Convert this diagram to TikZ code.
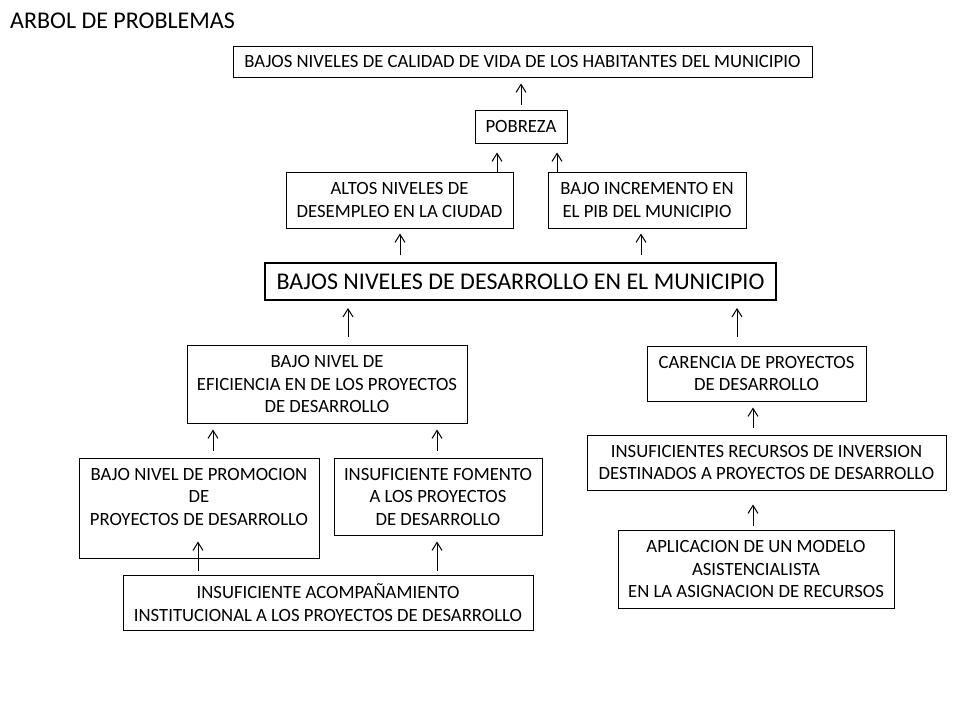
\documentclass[tikz,border=0pt]{standalone}
\usepackage{fontspec}
\setmainfont{Carlito}
\usetikzlibrary{arrows.meta}

\tikzset{
	problema/.style={draw, line width=1pt, inner sep=0pt, align=center,
		font=\fontsize{18.7}{22.5}\selectfont},
	flecha/.style={-{Straight Barb[length=8pt,width=10pt]}, line width=1pt},
}

\begin{document}
\begin{tikzpicture}[x=1pt,y=-1pt]
		\useasboundingbox (0,0) rectangle (960,720);

		\node[anchor=base west, inner sep=0pt, font=\fontsize{24}{28}\selectfont] (titulo) at (10,28) {ARBOL DE PROBLEMAS};

		% efectos
		\node[problema, minimum width=579pt, minimum height=31pt] (calidad) at (522.5,61.5) {BAJOS NIVELES DE CALIDAD DE VIDA DE LOS HABITANTES DEL MUNICIPIO};
		\node[problema, minimum width=92pt, minimum height=33pt] (pobreza) at (521,126.5) {POBREZA};
		\node[problema, minimum width=227pt, minimum height=56pt] (desempleo) at (399.5,200) {ALTOS NIVELES DE\\DESEMPLEO EN LA CIUDAD};
		\node[problema, minimum width=198pt, minimum height=56pt] (pib) at (647,200) {BAJO INCREMENTO EN\\EL PIB DEL MUNICIPIO};

		% problema central
		\node[problema, line width=2pt, minimum width=511pt, minimum height=37pt,
			font=\fontsize{24}{28}\selectfont] (central) at (520.5,281.5) {BAJOS NIVELES DE DESARROLLO EN EL MUNICIPIO};

		% causas
		\node[problema, minimum width=280pt, minimum height=78pt] (eficiencia) at (327,384) {BAJO NIVEL DE\\EFICIENCIA EN DE LOS PROYECTOS\\DE DESARROLLO};
		\node[problema, minimum width=219pt, minimum height=55pt] (carencia) at (756.5,373.5) {CARENCIA DE PROYECTOS\\DE DESARROLLO};
		\node[problema, minimum width=359pt, minimum height=55pt] (recursos) at (766.5,462.5) {INSUFICIENTES RECURSOS DE INVERSION\\DESTINADOS A PROYECTOS DE DESARROLLO};
		\node[problema, minimum width=276pt, minimum height=78pt] (modelo) at (756,569) {APLICACION DE UN MODELO\\ASISTENCIALISTA\\EN LA ASIGNACION DE RECURSOS};
		\node[problema, minimum width=240pt, minimum height=100pt] (promocion) at (199,508) {BAJO NIVEL DE PROMOCION\\DE\\PROYECTOS DE DESARROLLO\\ \mbox{}};
		\node[problema, minimum width=208pt, minimum height=77pt] (fomento) at (438,496.5) {INSUFICIENTE FOMENTO\\A LOS PROYECTOS\\DE DESARROLLO};
		\node[problema, minimum width=410pt, minimum height=55pt] (acompana) at (328,602.5) {INSUFICIENTE ACOMPAÑAMIENTO\\INSTITUCIONAL A LOS PROYECTOS DE DESARROLLO};

		% flechas
		\draw[flecha, shorten <=5pt, shorten >=6pt] (521,0 |- pobreza.north) -- (521,0 |- calidad.south);
		\draw[flecha, shorten >=9pt] (497,0 |- desempleo.north) -- (497,0 |- pobreza.south);
		\draw[flecha, shorten >=9pt] (557,0 |- pib.north) -- (557,0 |- pobreza.south);
		\draw[flecha, shorten <=7pt, shorten >=5pt] (400,0 |- central.north) -- (400,0 |- desempleo.south);
		\draw[flecha, shorten <=7pt, shorten >=5pt] (641,0 |- central.north) -- (641,0 |- pib.south);
		\draw[flecha, shorten <=8pt, shorten >=7pt] (348,0 |- eficiencia.north) -- (348,0 |- central.south);
		\draw[flecha, shorten <=9pt, shorten >=7pt] (737,0 |- carencia.north) -- (737,0 |- central.south);
		\draw[flecha, shorten <=7pt, shorten >=6pt] (753,0 |- recursos.north) -- (753,0 |- carencia.south);
		\draw[flecha, shorten <=4pt, shorten >=14pt] (753,0 |- modelo.north) -- (753,0 |- recursos.south);
		\draw[flecha, shorten <=7pt, shorten >=6pt] (213,0 |- promocion.north) -- (213,0 |- eficiencia.south);
		\draw[flecha, shorten <=7pt, shorten >=6pt] (437,0 |- fomento.north) -- (437,0 |- eficiencia.south);
		\draw[flecha, shorten <=4pt, shorten >=-17pt] (198,0 |- acompana.north) -- (198,0 |- promocion.south);
		\draw[flecha, shorten <=4pt, shorten >=6pt] (437,0 |- acompana.north) -- (437,0 |- fomento.south);
	\end{tikzpicture}
\end{document}
